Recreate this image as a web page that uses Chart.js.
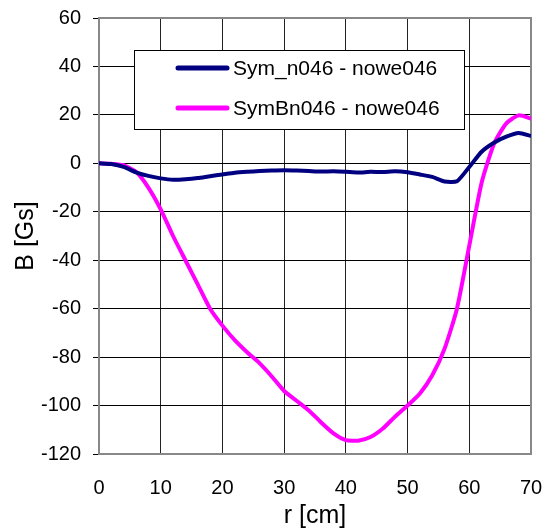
<!DOCTYPE html>
<html>
<head>
<meta charset="utf-8">
<script src="https://cdn.jsdelivr.net/npm/chart.js@4.4.1/dist/chart.umd.min.js"></script>
<style>
  html, body { margin: 0; padding: 0; background: #fff; }
  #wrap { width: 545px; height: 531px; }
</style>
</head>
<body>
<div id="wrap"><canvas id="chart" width="545" height="531"></canvas></div>
<script>
const rValues = [0, 2, 4, 6, 8, 10, 12, 14, 16, 18, 20, 22, 24, 26, 28, 30, 32, 34,
  36, 38, 40, 42, 44, 46, 48, 50, 52, 54, 56, 58, 60, 62, 64, 66, 68, 70];

const symN = [0, -0.3, -1.5, -3.7, -5.2, -6.2, -6.8, -6.6, -6.1, -5.3, -4.6, -3.9,
  -3.5, -3.2, -3.0, -2.9, -3.0, -3.2, -3.4, -3.3, -3.5, -3.8, -3.5, -3.6, -3.3,
  -3.7, -4.6, -5.6, -7.5, -7.4, -1.5, 4.8, 8.5, 11, 12.5, 11.3];

const symBn = [0, -0.2, -0.8, -3.5, -10, -19, -30, -40, -50, -60, -67, -73, -78,
  -82.5, -88, -94, -98, -102, -107, -111.5, -114.3, -114.5, -113, -109.5, -104.5,
  -100, -95, -87.5, -76.5, -60, -34, -8, 8, 16.5, 19.8, 18.5];

const seriesLabels = ["Sym_n046 - nowe046", "SymBn046 - nowe046"];
const seriesColors = ["#000080", "#ff00ff"];

const xTicks = [0, 10, 20, 30, 40, 50, 60, 70];
const yTicks = [-120, -100, -80, -60, -40, -20, 0, 20, 40, 60];

Chart.defaults.font.family = "'Liberation Sans', Arial, sans-serif";
Chart.defaults.color = "#000";

function toPoints(values) {
  return values.map((v, i) => ({ x: rValues[i], y: v }));
}

// legend box sitting inside the plot, like the original
const boxLegend = {
  id: "boxLegend",
  afterDatasetsDraw(chart) {
    const ctx = chart.ctx;
    ctx.save();
    ctx.fillStyle = "#fff";
    ctx.fillRect(134, 50, 330, 79);
    ctx.strokeStyle = "#000";
    ctx.lineWidth = 1;
    ctx.strokeRect(134.5, 50.5, 330, 79);

    chart.data.datasets.forEach((ds, i) => {
      const y = 68 + i * 40;
      ctx.strokeStyle = ds.borderColor;
      ctx.lineWidth = 5;
      ctx.lineCap = "round";
      ctx.beginPath();
      ctx.moveTo(178, y);
      ctx.lineTo(227, y);
      ctx.stroke();

      ctx.fillStyle = "#000";
      ctx.font = "21px 'Liberation Sans', Arial, sans-serif";
      ctx.textBaseline = "middle";
      ctx.fillText(ds.label, 233, y + 1);
    });
    ctx.restore();
  }
};

// gray frame round the plot area
const plotFrame = {
  id: "plotFrame",
  beforeDatasetsDraw(chart) {
    const a = chart.chartArea;
    const ctx = chart.ctx;
    ctx.save();
    ctx.strokeStyle = "#888";
    ctx.lineWidth = 2;
    ctx.strokeRect(a.left, a.top, a.right - a.left, a.bottom - a.top);
    ctx.restore();
  }
};

new Chart(document.getElementById("chart"), {
  type: "scatter",
  data: {
    datasets: [
      {
        label: seriesLabels[0],
        data: toPoints(symN),
        borderColor: seriesColors[0],
        backgroundColor: seriesColors[0],
        showLine: true,
        borderWidth: 4,
        pointRadius: 0,
        tension: 0.2
      },
      {
        label: seriesLabels[1],
        data: toPoints(symBn),
        borderColor: seriesColors[1],
        backgroundColor: seriesColors[1],
        showLine: true,
        borderWidth: 4,
        pointRadius: 0,
        tension: 0.2
      }
    ]
  },
  options: {
    responsive: false,
    animation: false,
    layout: { padding: { top: 18, right: 14, left: 0, bottom: 0 } },
    plugins: {
      legend: { display: false },
      tooltip: { enabled: false }
    },
    scales: {
      x: {
        type: "linear",
        min: 0,
        max: 70,
        afterBuildTicks: scale => { scale.ticks = xTicks.map(v => ({ value: v })); },
        afterFit: scale => {
          scale.height = 77;
          scale.paddingLeft = 0;
          scale.paddingRight = 0;
        },
        grid: { color: "#222", drawTicks: false },
        border: { display: false },
        ticks: { font: { size: 20 }, padding: 22, maxRotation: 0 },
        title: { display: true, text: "r [cm]", font: { size: 25 }, padding: { top: 0, bottom: 0 } }
      },
      y: {
        min: -120,
        max: 60,
        afterBuildTicks: scale => { scale.ticks = yTicks.map(v => ({ value: v })); },
        afterFit: scale => {
          scale.width = 99;
          scale.paddingTop = 0;
          scale.paddingBottom = 0;
        },
        grid: { color: "#000", tickLength: 6, tickColor: "#000" },
        border: { display: false },
        ticks: { font: { size: 20 }, padding: 12 },
        title: { display: true, text: "B [Gs]", font: { size: 25 }, padding: { top: 11, bottom: 0 } }
      }
    }
  },
  plugins: [plotFrame, boxLegend]
});
</script>
</body>
</html>
